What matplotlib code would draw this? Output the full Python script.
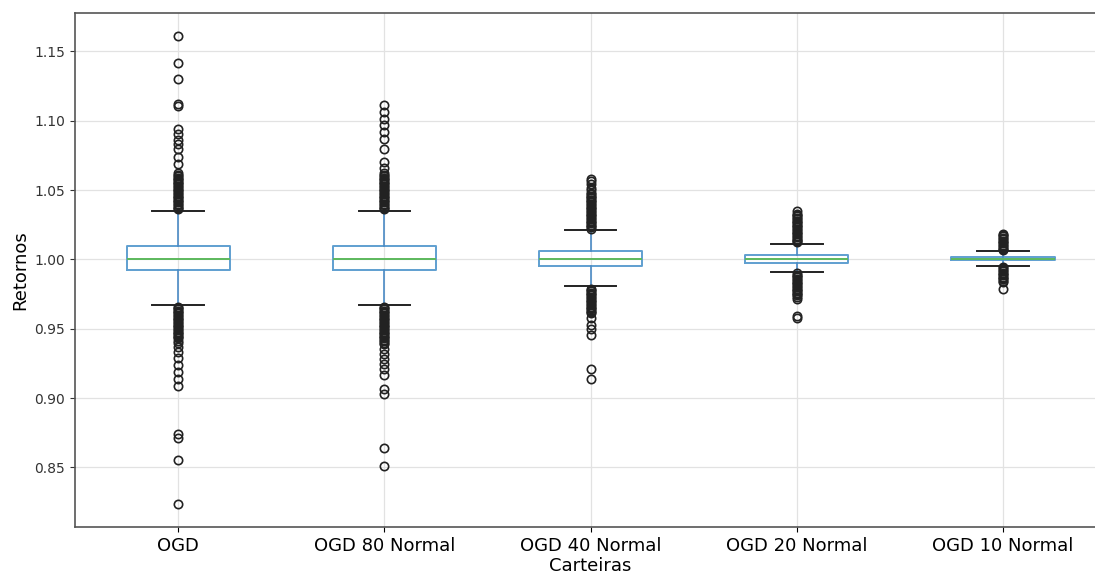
import matplotlib
matplotlib.use("Agg")
import matplotlib.pyplot as plt

# carteiras e estatisticas
labels = ["OGD", "OGD 80 Normal", "OGD 40 Normal", "OGD 20 Normal", "OGD 10 Normal"]
medians = [1.0000, 1.0000, 1.0003, 1.0000, 1.0003]
q1 = [0.9921, 0.9921, 0.9950, 0.9972, 0.9993]
q3 = [1.0095, 1.0098, 1.0058, 1.0028, 1.0014]
whislo = [0.9668, 0.9668, 0.9805, 0.9909, 0.9950]
whishi = [1.0347, 1.0348, 1.0209, 1.0113, 1.0060]

fliers_ogd = [1.036, 1.037, 1.038, 1.039, 1.040, 1.041, 1.042, 1.043, 1.044,
              1.045, 1.046, 1.047, 1.048, 1.049, 1.050, 1.051, 1.052, 1.053,
              1.054, 1.055, 1.056, 1.057, 1.058, 1.059, 1.060, 1.061, 1.062,
              1.069, 1.0738, 1.0798, 1.083, 1.0858, 1.0906, 1.094, 1.1103,
              1.1123, 1.1298, 1.1418, 1.1608,
              0.966, 0.965, 0.964, 0.963, 0.962, 0.961, 0.960, 0.959, 0.958,
              0.957, 0.956, 0.955, 0.954, 0.953, 0.952, 0.951, 0.950, 0.949,
              0.948, 0.947, 0.946, 0.945, 0.944, 0.943, 0.941, 0.9394, 0.9365,
              0.933, 0.9286, 0.9236, 0.9185, 0.914, 0.909, 0.874, 0.8716,
              0.8557, 0.824]
fliers_ogd80 = [1.036, 1.037, 1.038, 1.039, 1.040, 1.041, 1.042, 1.043, 1.044,
                1.045, 1.046, 1.047, 1.048, 1.049, 1.050, 1.051, 1.052, 1.053,
                1.054, 1.055, 1.056, 1.057, 1.058, 1.059, 1.060, 1.061, 1.062,
                1.0656, 1.0702, 1.0798, 1.087, 1.0918, 1.0966, 1.1015, 1.106,
                1.111,
                0.966, 0.965, 0.964, 0.963, 0.962, 0.961, 0.960, 0.959, 0.958,
                0.957, 0.956, 0.955, 0.954, 0.953, 0.952, 0.951, 0.950, 0.949,
                0.948, 0.947, 0.946, 0.945, 0.944, 0.943, 0.942, 0.941, 0.940,
                0.939, 0.9356, 0.932, 0.9284, 0.9248, 0.9212, 0.9164, 0.9068,
                0.9032, 0.8642, 0.8514]
fliers_ogd40 = [1.022, 1.023, 1.024, 1.025, 1.026, 1.027, 1.028, 1.029, 1.030,
                1.031, 1.032, 1.033, 1.034, 1.035, 1.036, 1.037, 1.038, 1.039,
                1.040, 1.041, 1.042, 1.043, 1.044, 1.045, 1.046, 1.047, 1.048,
                1.050, 1.0518, 1.0541, 1.0565, 1.0582,
                0.979, 0.978, 0.977, 0.976, 0.975, 0.974, 0.973, 0.972, 0.971,
                0.970, 0.969, 0.968, 0.967, 0.966, 0.965, 0.964, 0.963, 0.962,
                0.961, 0.958, 0.953, 0.950, 0.9452, 0.9212, 0.914]
fliers_ogd20 = [1.0122, 1.013, 1.014, 1.015, 1.016, 1.017, 1.018, 1.019,
                1.020, 1.021, 1.022, 1.023, 1.024, 1.025, 1.026, 1.027, 1.028,
                1.029, 1.030, 1.031, 1.032, 1.033, 1.0348,
                0.990, 0.989, 0.988, 0.987, 0.986, 0.985, 0.984, 0.983, 0.982,
                0.981, 0.980, 0.979, 0.978, 0.977, 0.976, 0.975, 0.974, 0.973,
                0.9717, 0.9590, 0.9578]
fliers_ogd10 = [1.0068, 1.0075, 1.0085, 1.0095, 1.0105, 1.0115, 1.0125,
                1.0135, 1.0145, 1.0155, 1.0165, 1.0175, 1.0185,
                0.9942, 0.9935, 0.9925, 0.9915, 0.9905, 0.9895, 0.9885,
                0.9875, 0.9865, 0.9855, 0.9845, 0.9836, 0.9789]
fliers = [fliers_ogd, fliers_ogd80, fliers_ogd40, fliers_ogd20, fliers_ogd10]

stats = []
for i, lab in enumerate(labels):
    stats.append({"label": lab, "med": medians[i], "q1": q1[i], "q3": q3[i],
                  "whislo": whislo[i], "whishi": whishi[i], "fliers": fliers[i]})

fig = plt.figure(figsize=(10.95, 5.74), dpi=100)
ax = fig.add_axes([0.0685, 0.082, 0.9416, 0.8955])

ax.bxp(stats, widths=0.5,
       boxprops=dict(color="#5f9fd0", linewidth=1.4),
       whiskerprops=dict(color="#4a8ac4", linewidth=1.2),
       medianprops=dict(color="#5cb85c", linewidth=1.4),
       capprops=dict(color="#222222", linewidth=1.4),
       flierprops=dict(marker="o", markerfacecolor="none",
                       markeredgecolor="#222222", markersize=6,
                       markeredgewidth=1.2))

ax.grid(True, color="#e2e2e2", linewidth=0.9)
ax.set_axisbelow(True)
ax.set_yticks([0.85, 0.90, 0.95, 1.00, 1.05, 1.10, 1.15])
ax.tick_params(axis="y", labelsize=10, colors="#333333")
ax.tick_params(axis="x", labelsize=13)
ax.set_ylabel("Retornos", fontsize=13)
ax.set_xlabel("Carteiras", fontsize=13, labelpad=2)
ax.spines["right"].set_visible(False)
for s in ax.spines.values():
    s.set_color("#555555")
    s.set_linewidth(1.2)

fig.savefig("out.png", dpi=100)
